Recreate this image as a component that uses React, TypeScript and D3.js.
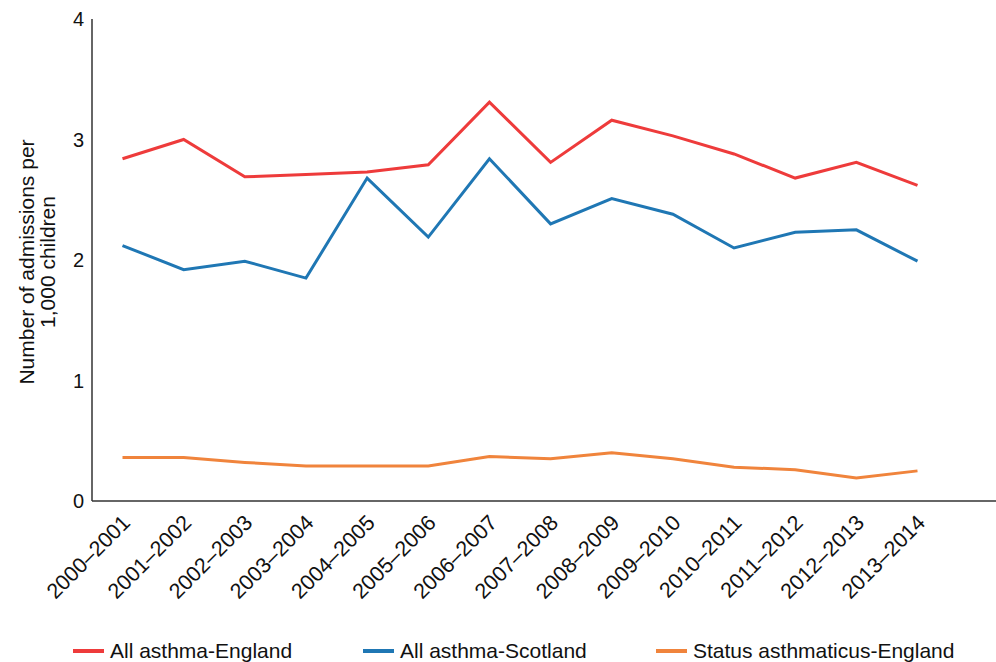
import * as d3 from "d3";

const years = [
  "2000–2001", "2001–2002", "2002–2003", "2003–2004", "2004–2005",
  "2005–2006", "2006–2007", "2007–2008", "2008–2009", "2009–2010",
  "2010–2011", "2011–2012", "2012–2013", "2013–2014",
];

const englandAll = [2.84, 3.0, 2.69, 2.71, 2.73, 2.79, 3.31, 2.81, 3.16, 3.03, 2.88, 2.68, 2.81, 2.62];
const scotlandAll = [2.12, 1.92, 1.99, 1.85, 2.68, 2.19, 2.84, 2.3, 2.51, 2.38, 2.1, 2.23, 2.25, 1.99];
const englandStatus = [0.36, 0.36, 0.32, 0.29, 0.29, 0.29, 0.37, 0.35, 0.4, 0.35, 0.28, 0.26, 0.19, 0.25];

const yTicks = [0, 1, 2, 3, 4];

const series = [
  { name: "All asthma-England", values: englandAll, color: "#ee3b3b" },
  { name: "All asthma-Scotland", values: scotlandAll, color: "#1f77b4" },
  { name: "Status asthmaticus-England", values: englandStatus, color: "#f0843c" },
];

const W = 996, H = 662;
const axisX = 92, axisBottom = 501, axisTop = 19;
const legendX = [73, 363, 656];
const font = "'Liberation Sans', Arial, sans-serif";

const x = d3.scalePoint<string>().domain(years).range([122.5, 917.5]);
const y = d3.scaleLinear().domain([0, 4]).range([axisBottom, axisTop]);

const line = d3.line<number>()
  .x((_, i) => x(years[i]) as number)
  .y(d => y(d));

export default function App() {
  return (
    <div style={{ position: "absolute", left: 0, top: 0 }}>
      <svg width={W} height={H} style={{ display: "block", background: "#fff" }} fontFamily={font}>
        {/* axes, no tick marks */}
        <line x1={axisX} x2={axisX} y1={axisTop} y2={axisBottom} stroke="#333" strokeWidth={1.5} />
        <line x1={axisX} x2={W} y1={axisBottom} y2={axisBottom} stroke="#333" strokeWidth={1.5} />

        {yTicks.map(t => (
          <text key={t} x={84} y={y(t)} textAnchor="end" dominantBaseline="central" fontSize={20} fill="#111">
            {t}
          </text>
        ))}

        {years.map(yr => (
          <text
            key={yr}
            transform={`translate(${(x(yr) as number) + 9},${axisBottom + 23}) rotate(-45)`}
            textAnchor="end"
            fontSize={21.5}
            fill="#111"
          >
            {yr}
          </text>
        ))}

        <g transform="translate(34,262) rotate(-90)" fontSize={21} fill="#111">
          <text x={0} y={0} textAnchor="middle">Number of admissions per</text>
          <text x={0} y={21} textAnchor="middle">1,000 children</text>
        </g>

        {series.map(s => (
          <path key={s.name} d={line(s.values) || ""} fill="none" stroke={s.color} strokeWidth={3} strokeLinejoin="miter" />
        ))}

        {series.map((s, i) => (
          <g key={s.name} transform={`translate(${legendX[i]},651)`}>
            <line x1={0} x2={31} y1={0} y2={0} stroke={s.color} strokeWidth={4} />
            <text x={37} y={7} fontSize={21} fill="#111">{s.name}</text>
          </g>
        ))}
      </svg>
    </div>
  );
}
